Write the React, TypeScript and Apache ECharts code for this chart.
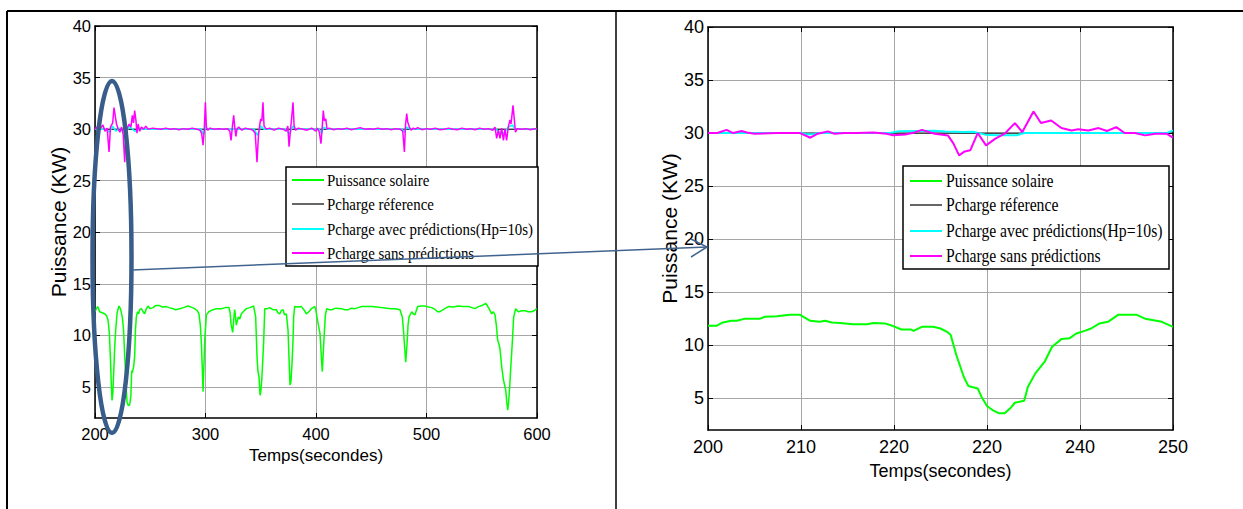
import React, { useEffect, useRef } from "react";
import * as echarts from "echarts";

// ---------- data ----------
const yTickValues = [5, 10, 15, 20, 25, 30, 35, 40];
const rightXTickLabels = ["200", "210", "220", "220", "240", "250"];
const legendNames = [
  "Puissance solaire",
  "Pcharge réference",
  "Pcharge avec prédictions(Hp=10s)",
  "Pcharge sans prédictions",
];
const seriesColors = ["#00ff00", "#000000", "#00ffff", "#ff00ff"];

const leftSolar = [
  [200, 12.3], [201.2, 12.6], [202.5, 12.8], [204.2, 12.3], [206.5, 12.2], [208.8, 12.1], [210.5, 11.9], [211.8, 11.5],
  [213, 10.2], [213.9, 8.0], [214.7, 5.5], [215.4, 3.7], [216.2, 4.5], [216.9, 6.3], [217.8, 8.8], [218.7, 10.5],
  [220, 12.2], [221.7, 12.85], [223, 12.6], [224.7, 11.8], [225.8, 10.6], [226.9, 8.0], [228, 5.5], [229, 3.5],
  [230.2, 3.2], [231.4, 3.3], [232.5, 4.2], [233.2, 6.6], [233.8, 6.4], [235, 7.0], [235.9, 8.0], [236.6, 10.5],
  [237.4, 11.8], [238.5, 12.3], [239.5, 12.1], [240.4, 12.5], [242, 12.6], [243.5, 12.3], [244.9, 12.1], [246.5, 12.6],
  [248, 12.85], [250, 12.6], [252.5, 12.7], [255, 12.9], [258.5, 12.9], [261, 12.75], [264.6, 12.8], [267, 12.7],
  [270.6, 12.6], [273, 12.5], [276.6, 12.6], [280, 12.7], [284.2, 12.85], [287, 12.75], [290.2, 12.6], [292.5, 12.4],
  [294.1, 12.1], [295.3, 11.0], [296.3, 9.2], [297.2, 6.5], [297.8, 4.55], [298.5, 6.8], [299.3, 9.55], [300.8, 12.0],
  [303, 12.3], [306.8, 12.5], [310, 12.6], [314.4, 12.6], [318, 12.7], [321.3, 12.7], [322.3, 12.2], [323.1, 11.1],
  [324.6, 10.3], [325.5, 11.5], [326.4, 12.5], [327.2, 11.8], [327.9, 11.0], [329.7, 11.8], [331, 11.6], [332.5, 12.1],
  [335, 12.4], [337, 12.6], [340, 12.7], [343.6, 12.85], [345.4, 11.8], [346.6, 8.0], [347.5, 6.5], [348.4, 6.0],
  [349.4, 4.2], [350.1, 4.6], [350.9, 5.7], [351.8, 7.5], [352.7, 9.55], [353.6, 12.6], [356, 12.6], [358.1, 12.7],
  [361, 12.5], [364.1, 12.5], [365.5, 12.2], [367.2, 12.1], [368.5, 12.4], [370.2, 12.5], [371.5, 12.0], [373.2, 12.1],
  [374.7, 10.5], [375.5, 8.0], [376.5, 5.2], [377.3, 5.5], [378.3, 7.3], [379.2, 9.5], [379.8, 11.8], [380.7, 12.8],
  [384, 12.75], [386.8, 12.8], [389, 12.5], [391.3, 12.1], [393.5, 12.3], [395.8, 12.6], [398.8, 12.8], [399.8, 12.5],
  [401.5, 11.4], [403.6, 10.2], [404.8, 8.0], [405.7, 6.5], [406.5, 8.2], [407.5, 10.2], [408.5, 12.0], [409.7, 12.6],
  [412, 12.5], [414.2, 12.5], [418, 12.65], [423.2, 12.6], [426, 12.5], [429.3, 12.5], [432, 12.65], [435.3, 12.6],
  [438, 12.7], [441.3, 12.8], [446, 12.8], [450.4, 12.8], [455, 12.75], [459.4, 12.7], [464, 12.65], [468.5, 12.6],
  [472, 12.6], [476, 12.5], [478.1, 11.8], [479.2, 10.5], [480, 9.2], [481.2, 7.4], [482.4, 9.2], [483.3, 11.0],
  [484.2, 11.8], [486.6, 12.3], [488, 12.1], [489.6, 12.0], [491, 12.5], [492, 12.8], [495, 12.85], [498.7, 12.85],
  [502, 12.75], [504.7, 12.7], [508, 12.5], [510, 12.3], [512.2, 12.3], [515, 12.5], [519.8, 12.8], [524, 12.75],
  [528.8, 12.85], [533, 12.8], [537.9, 12.8], [541, 12.7], [543.9, 12.6], [547, 12.8], [549.9, 12.9], [553.6, 13.1],
  [555, 12.9], [556.6, 12.6], [559, 12.1], [560.5, 12.3], [562, 12.0], [563.2, 11.0], [564.4, 9.55], [565.5, 9.2],
  [566.5, 8.7], [568, 7.0], [569.6, 5.7], [570.7, 5.2], [571.7, 4.7], [572.7, 3.5], [573.5, 2.75], [574.3, 3.5],
  [575.3, 5.0], [576.2, 6.8], [577.1, 8.3], [578, 10.0], [578.9, 11.8], [580.7, 12.6], [583.1, 12.3], [586, 12.4],
  [589.2, 12.4], [592, 12.3], [595.2, 12.3], [597.5, 12.4], [599.7, 12.6], [600, 12.6],
];

const leftReference = [[200, 30], [600, 30]];

const leftWithPrediction = [
  [200, 30], [210, 30], [213, 29.7], [216, 30.3], [219, 29.8], [222, 30.1], [228, 29.6], [231, 30.3], [236, 29.8],
  [240, 30], [296, 30], [298, 29.5], [300, 30.2], [302, 30], [344, 30], [347, 29.4], [350, 30.3], [353, 30],
  [373, 30], [376, 29.5], [379, 30.3], [382, 30], [403, 30], [405, 29.6], [407, 30.2], [410, 30], [478, 30],
  [480, 29.7], [482, 30.2], [485, 30], [563, 30], [566, 29.7], [570, 29.6], [574, 30.2], [578, 30.4], [580, 30],
  [600, 30],
];

const leftWithoutPrediction = [
  [200, 30], [201.5, 30.2], [203, 29.9], [205, 30.1], [207.2, 30.4], [209, 29.8], [211, 30.1], [212.7, 27.8],
  [214, 30.2], [216, 30.6], [217.2, 32.1], [218.7, 31], [219.5, 30.5], [221, 30], [222.5, 29.7], [224, 30.2],
  [225.5, 29.5], [226.9, 26.8], [228, 29.6], [229.5, 30.2], [231, 30.5], [232.5, 30.2], [233.8, 31.35], [234.8, 30.6],
  [235.9, 31.8], [237, 30.9], [238, 29.6], [239, 30.5], [240.5, 29.8], [242, 30.2], [244, 30], [246, 30.3],
  [248, 30], [252, 30.1], [256, 30.05], [260, 30], [264, 30.1], [268, 30], [272, 30.05], [276, 29.95],
  [280, 30.05], [284, 30], [288, 30.1], [292, 30], [295, 29.9], [296.5, 29.6], [297.8, 28.45], [298.8, 29.8],
  [299.9, 32.6], [300.8, 30.2], [302, 29.9], [304, 30.1], [308, 30], [312, 30.05], [316, 30], [320, 30.05],
  [322, 29.8], [323.1, 28.9], [324.2, 30.1], [325.5, 31.35], [326.5, 30.2], [327.5, 29.3], [328.5, 30], [330, 30.2],
  [333, 29.9], [336, 30.1], [340, 30], [343, 29.9], [345, 29.6], [346.6, 26.8], [348, 29.5], [349.2, 30.5],
  [350, 31], [351, 30.8], [352, 32.6], [353, 30.3], [355, 30], [358, 30.1], [362, 29.9], [366, 30.1],
  [370, 30], [373, 29.8], [374.5, 30.3], [375.6, 28.3], [377, 30], [378.2, 31.35], [379.2, 32.6], [380.2, 30.3],
  [381.5, 29.9], [384, 30.1], [388, 30], [392, 29.9], [396, 30.1], [400, 29.8], [401.3, 30.1], [403, 29.7],
  [404.5, 28.6], [405.5, 30], [406.6, 31.8], [407.6, 30.8], [408.8, 31], [410, 30], [412, 30.1], [416, 29.95],
  [420, 30.05], [424, 30], [428, 30.1], [432, 29.95], [436, 30.05], [440, 30.15], [444, 30], [448, 30.05],
  [452, 30], [456, 30.1], [460, 30], [464, 30.05], [468, 29.95], [472, 30.05], [476, 30], [478.5, 29.8],
  [480, 27.8], [481, 30.4], [482.1, 31.5], [483, 30.7], [484.5, 30.2], [486, 29.9], [488, 30.1], [490, 30],
  [492, 30.15], [496, 29.95], [500, 30.05], [504, 30], [508, 30.1], [512, 29.95], [516, 30], [520, 30.1],
  [524, 30], [528, 29.95], [532, 30.1], [536, 30], [540, 30.05], [544, 29.95], [548, 30.1], [552, 30],
  [556, 30.05], [560, 29.9], [562, 30.2], [563.5, 29.1], [565, 29.9], [566.5, 29.1], [568, 30.1], [569.6, 28.9],
  [571, 30], [572.5, 28.9], [574, 30.2], [575.5, 30.9], [576.5, 30.5], [578.3, 32.3], [579.5, 30.9], [580.5, 29.7],
  [582, 30.05], [586, 30], [590, 30.05], [594, 29.95], [598, 30.05], [600, 30],
];

const rightSolar = [
  [200, 11.82], [200.9, 11.82], [201.6, 12.14], [202.5, 12.3], [203.1, 12.3], [204, 12.5], [205.6, 12.5],
  [206.1, 12.67], [207.4, 12.73], [208.8, 12.86], [209.9, 12.86], [211, 12.3], [212, 12.2], [212.6, 12.3],
  [213.3, 12.14], [214.2, 12.08], [215.6, 11.98], [217.1, 11.98], [217.8, 12.08], [219, 12.05], [219.9, 11.8],
  [220.8, 11.48], [221.8, 11.48], [222.1, 11.35], [223, 11.73], [224.2, 11.73], [225, 11.57], [225.7, 11.26],
  [226.1, 10.95], [226.7, 9.07], [227.5, 7.02], [228, 6.14], [229, 5.92], [229.4, 5.14], [230, 4.26], [230.7, 3.82],
  [231.3, 3.57], [231.9, 3.57], [232.5, 4.04], [233, 4.57], [234, 4.76], [234.4, 6.08], [235.2, 7.34], [236.2, 8.44],
  [237, 9.85], [238, 10.57], [238.9, 10.66], [239.6, 11.1], [240.5, 11.35], [241.2, 11.57], [242.1, 12.05],
  [243, 12.2], [244.1, 12.86], [246.1, 12.86], [247, 12.5], [248.8, 12.2], [250, 11.73],
];

const rightReference = [[200, 30], [250, 30]];

const rightWithPrediction = [
  [200, 30], [210, 30], [210.5, 29.88], [211.3, 29.88], [212, 30], [219.5, 30], [220.5, 30.18], [224.4, 30.22],
  [225.5, 30.15], [227.5, 30.1], [228.5, 30.12], [229.8, 29.85], [231, 29.8], [233.2, 29.8], [234, 30],
  [249.3, 30], [250, 30.25],
];

const rightWithoutPrediction = [
  [200, 30], [201, 30], [202, 30.3], [202.7, 30], [203.6, 30.2], [204.2, 30.06], [205, 29.94], [207.4, 30],
  [209.9, 30], [211, 29.56], [211.8, 29.94], [212.9, 30.16], [213.6, 29.94], [214.6, 30], [216, 30],
  [217.8, 30.06], [219.2, 29.94], [219.9, 29.8], [221.2, 29.87], [222.2, 30.06], [223, 30.3], [223.9, 30.06],
  [224.4, 29.94], [225.8, 29.78], [226.4, 29.0], [227, 27.9], [227.6, 28.27], [228.2, 28.37], [229, 30.0],
  [229.9, 28.84], [230.9, 29.47], [231.9, 29.94], [233, 30.94], [233.8, 30.09], [235, 32.04], [235.8, 30.94],
  [236.9, 31.19], [238, 30.47], [239.1, 30.25], [239.8, 30.35], [240.9, 30.25], [242, 30.47], [242.9, 30.19],
  [243.9, 30.56], [244.8, 30], [245.9, 30], [247, 29.78], [248.1, 29.94], [249.3, 29.94], [250, 29.56],
];

// ---------- styling helpers ----------
const SANS = "'Liberation Sans', Arial, sans-serif";
const AXIS_COLOR = "#000";
const GRID_COLOR = "#a6a6a6";

function bottomX(gridIndex: number, min: number, max: number, interval: number, fontSize: number, nameSize: number, nameGap: number, labelMargin: number, formatter?: any) {
  return {
    type: "value", gridIndex, min, max, interval, position: "bottom",
    name: "Temps(secondes)", nameLocation: "middle", nameGap,
    nameTextStyle: { fontFamily: SANS, fontSize: nameSize, color: "#000" },
    axisLine: { show: true, onZero: false, lineStyle: { color: AXIS_COLOR, width: 1.5 } },
    axisTick: { show: true, inside: true, length: 5, lineStyle: { color: AXIS_COLOR } },
    axisLabel: { show: true, margin: labelMargin, fontFamily: SANS, fontSize, color: "#000", formatter },
    splitLine: { show: true, lineStyle: { color: GRID_COLOR, width: 1 } },
  };
}
function topX(gridIndex: number, min: number, max: number, interval: number) {
  return {
    type: "value", gridIndex, min, max, interval, position: "top",
    axisLine: { show: true, onZero: false, lineStyle: { color: AXIS_COLOR, width: 1.5 } },
    axisTick: { show: true, inside: true, length: 5, lineStyle: { color: AXIS_COLOR } },
    axisLabel: { show: false }, splitLine: { show: false },
  };
}
function leftY(gridIndex: number, fontSize: number, nameGap: number) {
  return {
    type: "value", gridIndex, min: 2, max: 40, position: "left",
    name: "Puissance (KW)", nameLocation: "middle", nameGap,
    nameTextStyle: { fontFamily: SANS, fontSize: 21, color: "#000" },
    axisLine: { show: true, onZero: false, lineStyle: { color: AXIS_COLOR, width: 1.5 } },
    axisTick: { show: true, inside: true, length: 5, customValues: yTickValues, lineStyle: { color: AXIS_COLOR } },
    axisLabel: { show: true, margin: 4, customValues: yTickValues, fontFamily: SANS, fontSize, color: "#000" },
    splitLine: { show: true, lineStyle: { color: GRID_COLOR, width: 1 } },
  };
}
function rightY(gridIndex: number) {
  return {
    type: "value", gridIndex, min: 2, max: 40, position: "right",
    axisLine: { show: true, onZero: false, lineStyle: { color: AXIS_COLOR, width: 1.5 } },
    axisTick: { show: true, inside: true, length: 5, customValues: yTickValues, lineStyle: { color: AXIS_COLOR } },
    axisLabel: { show: false }, splitLine: { show: false },
  };
}

function lineSeries(name: string, data: number[][], color: string, width: number, axisIdx: number) {
  return {
    type: "line", name, data, xAxisIndex: axisIdx, yAxisIndex: axisIdx,
    showSymbol: false, symbol: "none", clip: true, silent: true,
    lineStyle: { color, width }, itemStyle: { color },
  };
}

function legendBox(x: number, y: number, w: number, h: number, rows: number[], lineX0: number, lineX1: number, textX: number, fontSize: number) {
  const children: any[] = [
    { type: "rect", z: 100, shape: { x, y, width: w, height: h }, style: { fill: "#fff", stroke: "#000", lineWidth: 1.5 } },
  ];
  legendNames.forEach((name, i) => {
    children.push({
      type: "line", z: 101, shape: { x1: lineX0, y1: rows[i], x2: lineX1, y2: rows[i] },
      style: { stroke: seriesColors[i], lineWidth: i === 1 ? 1.2 : 2 },
    });
    children.push({
      type: "text", z: 101, x: textX, y: rows[i], scaleX: 0.843,
      style: { text: name, x: 0, y: 0, fontFamily: "'Liberation Serif', 'Times New Roman', serif", fontSize, fill: "#000", verticalAlign: "middle", align: "left" },
    });
  });
  return { type: "group", z: 100, children };
}

export default function App() {
  const ref = useRef<HTMLDivElement>(null);
  useEffect(() => {
    document.body.style.margin = "0";
    const chart = echarts.init(ref.current!, null, { renderer: "svg" });
    const option: any = {
      animation: false,
      backgroundColor: "#fff",
      grid: [
        { left: 95, top: 26, width: 442, height: 392 },
        { left: 708, top: 27, width: 465, height: 403 },
      ],
      xAxis: [
        bottomX(0, 200, 600, 100, 16.5, 17, 29, 7),
        bottomX(1, 200, 250, 10, 18, 18, 32, 8, (v: number) => rightXTickLabels[Math.round((v - 200) / 10)] ?? String(v)),
        topX(0, 200, 600, 100),
        topX(1, 200, 250, 10),
      ],
      yAxis: [leftY(0, 16.5, 26), leftY(1, 18, 27), rightY(0), rightY(1)],
      series: [
        lineSeries(legendNames[0], leftSolar, seriesColors[0], 1.5, 0),
        lineSeries(legendNames[1], leftReference, seriesColors[1], 1, 0),
        lineSeries(legendNames[2], leftWithPrediction, seriesColors[2], 1.5, 0),
        lineSeries(legendNames[3], leftWithoutPrediction, seriesColors[3], 1.5, 0),
        lineSeries(legendNames[0], rightSolar, seriesColors[0], 2, 1),
        lineSeries(legendNames[1], rightReference, seriesColors[1], 1, 1),
        lineSeries(legendNames[2], rightWithPrediction, seriesColors[2], 2, 1),
        lineSeries(legendNames[3], rightWithoutPrediction, seriesColors[3], 2, 1),
      ],
      graphic: [
        // outer frame
        { type: "line", z: 100, shape: { x1: 7, y1: 11, x2: 1243, y2: 11 }, style: { stroke: "#000", lineWidth: 2 } },
        { type: "line", z: 100, shape: { x1: 7, y1: 11, x2: 7, y2: 509 }, style: { stroke: "#000", lineWidth: 2 } },
        { type: "line", z: 100, shape: { x1: 616, y1: 11, x2: 616, y2: 509 }, style: { stroke: "#000", lineWidth: 1.5 } },
        legendBox(286, 167, 252, 99, [180, 204, 229, 253], 292, 324, 327, 17.7),
        legendBox(903, 166, 266, 103, [181, 205, 231, 256], 910, 942, 946, 18.6),
        // annotation: ellipse and arrow
        { type: "ellipse", z: 110, shape: { cx: 112, cy: 257, rx: 19.5, ry: 176 }, style: { fill: "none", stroke: "#385D8A", lineWidth: 4.5 } },
        { type: "line", z: 110, shape: { x1: 132, y1: 270, x2: 707, y2: 247 }, style: { stroke: "#41648f", lineWidth: 1.5 } },
        { type: "polyline", z: 110, shape: { points: [[691, 239], [707, 247], [691, 257]] }, style: { stroke: "#41648f", lineWidth: 1.5, fill: "none" } },
      ],
    };
    chart.setOption(option);
    return () => chart.dispose();
  }, []);
  return <div ref={ref} style={{ width: 1243, height: 509 }} />;
}
